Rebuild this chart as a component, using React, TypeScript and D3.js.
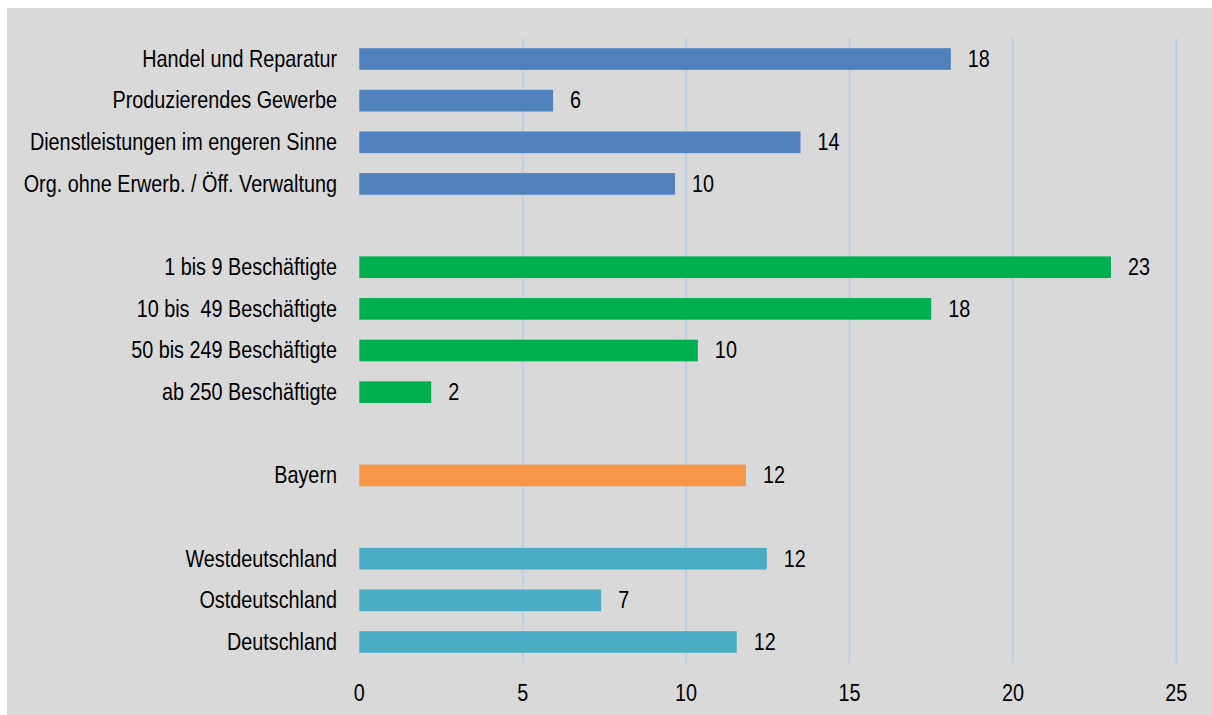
import React from "react";
import * as d3 from "d3";

const categories = [
  "Handel und Reparatur",
  "Produzierendes Gewerbe",
  "Dienstleistungen im engeren Sinne",
  "Org. ohne Erwerb. / Öff. Verwaltung",
  "",
  "1 bis 9 Beschäftigte",
  "10 bis  49 Beschäftigte",
  "50 bis 249 Beschäftigte",
  "ab 250 Beschäftigte",
  " ",
  "Bayern",
  "  ",
  "Westdeutschland",
  "Ostdeutschland",
  "Deutschland",
];
const values: (number | null)[] = [18.1, 5.93, 13.5, 9.66, null, 23.0, 17.5, 10.36, 2.2, null, 11.83, null, 12.47, 7.4, 11.55];
const groups = ["branche", "branche", "branche", "branche", "", "groesse", "groesse", "groesse", "groesse", "", "bayern", "", "region", "region", "region"];
const groupColors: Record<string, string> = {
  branche: "#4f81bd",
  groesse: "#00b050",
  bayern: "#f79646",
  region: "#4bacc6",
};
const xTicks = [0, 5, 10, 15, 20, 25];

const FONT = "'Liberation Sans', Arial, sans-serif";
const FS = 24;
const SX = 0.825;

function NText({ x, y, anchor, children }: { x: number; y: number; anchor: string; children: React.ReactNode }) {
  return (
    <text
      transform={`translate(${x},${y}) scale(${SX},1)`}
      textAnchor={anchor}
      fontSize={FS}
      fill="#000"
      style={{ whiteSpace: "pre" }}
    >
      {children}
    </text>
  );
}

export default function App() {
  const W = 1212, H = 715;
  const x = d3.scaleLinear().domain([0, 25]).range([359.3, 1176.3]);
  const y = d3.scaleBand<string>().domain(categories).range([38.2, 662.8]).paddingInner(0.48).paddingOuter(0.24);
  const fmt = d3.format(".0f");
  return (
    <svg width={W} height={H} style={{ position: "absolute", left: 0, top: 0 }} fontFamily={FONT}>
      <rect x={0} y={0} width={W} height={H} fill="#ffffff" />
      <rect x={7} y={8} width={W - 7} height={H - 8} fill="#d9d9d9" />
      {xTicks.filter((t) => t !== 0).map((t) => (
        <line key={"g" + t} x1={x(t)} x2={x(t)} y1={38} y2={663} stroke="#b8cde6" strokeWidth={1.6} />
      ))}
      {categories.map((c, i) => {
        const v = values[i];
        if (v == null) return null;
        const yy = y(c)!;
        const bw = y.bandwidth();
        const base = yy + bw / 2 + 7.8;
        return (
          <g key={i}>
            <rect x={x(0)} y={yy} width={x(v) - x(0)} height={bw} fill={groupColors[groups[i]]} />
            <NText x={337} y={base} anchor="end">{c}</NText>
            <NText x={x(v) + 17} y={base} anchor="start">{fmt(v)}</NText>
          </g>
        );
      })}
      {xTicks.map((t) => (
        <NText key={"t" + t} x={x(t)} y={701} anchor="middle">{t}</NText>
      ))}
    </svg>
  );
}
